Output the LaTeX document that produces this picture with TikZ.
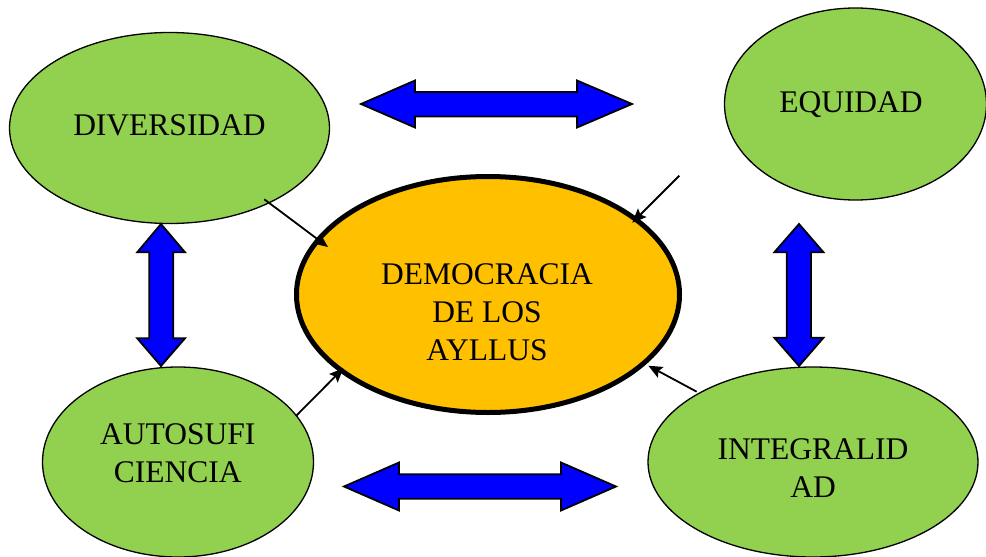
\documentclass[tikz,border=0pt]{standalone}
\usepackage{fontspec}
\setmainfont{Liberation Serif}
\usetikzlibrary{shapes.geometric,arrows.meta}
\definecolor{lgreen}{HTML}{92D050}
\definecolor{gold}{HTML}{FFC000}
\definecolor{dblue}{HTML}{0000FF}
\begin{document}
\begin{tikzpicture}[x=1pt,y=-1pt,
  greenell/.style={ellipse,draw=black,line width=1.3pt,fill=lgreen,inner sep=0pt},
  centerell/.style={ellipse,draw=black,line width=5pt,fill=gold,inner sep=0pt},
  lbl/.style={anchor=base,align=center,inner sep=0pt,font=\fontsize{31.5}{37.8}\selectfont},
  dbl/.style={draw=black,line width=1.8pt,fill=dblue,line join=miter},
  conn/.style={draw=black,line width=1.8pt,-{Stealth[length=14pt,width=12pt,inset=2.5pt]}}]
\useasboundingbox (0,0) rectangle (986,557);
% ellipses
\node[greenell,minimum width=320pt,minimum height=191pt] (div) at (169.5,128) {};
\node[greenell,minimum width=262pt,minimum height=192pt] (equ) at (855.5,104) {};
\node[greenell,minimum width=271pt,minimum height=190pt] (aut) at (178,462) {};
\node[greenell,minimum width=330pt,minimum height=190pt] (int) at (813,462) {};
\node[centerell,minimum width=383pt,minimum height=236pt] (dem) at (488,294.5) {};
% texts (base = baseline of last line)
\node[lbl] (tdiv) at (169.5,135.5) {DIVERSIDAD};
\node[lbl] (tequ) at (851,112) {EQUIDAD};
\node[lbl] (tdem) at (487,360) {DEMOCRACIA\\DE LOS\\AYLLUS};
\node[lbl] (taut) at (177.7,482.3) {AUTOSUFI\\CIENCIA};
\node[lbl] (tint) at (813,497.5) {INTEGRALID\\AD};
% double arrows
\draw[dbl] (361,104) -- (415,80.5) -- (415,92) -- (577,92) -- (577,80.5) -- (632,104) -- (577,127.5) -- (577,116.5) -- (415,116.5) -- (415,127.5) -- cycle;
\draw[dbl] (344,486.5) -- (399,462.5) -- (399,474.3) -- (561,474.3) -- (561,462.5) -- (616,486.5) -- (561,510.5) -- (561,498.8) -- (399,498.8) -- (399,510.5) -- cycle;
\draw[dbl] (161,224) -- (185,252.3) -- (173.2,252.3) -- (173.2,338.3) -- (185,338.3) -- (161,366) -- (137.2,338.3) -- (149.2,338.3) -- (149.2,252.3) -- (137.2,252.3) -- cycle;
\draw[dbl] (799,224) -- (823.5,252.3) -- (811,252.3) -- (811,337.7) -- (823.5,337.7) -- (799,366) -- (774.3,337.7) -- (786.8,337.7) -- (786.8,252.3) -- (774.3,252.3) -- cycle;
% connectors
\coordinate (s1) at (264.3,199.3);
\coordinate (e1) at (328,247);
\coordinate (s2) at (679.3,175.7);
\coordinate (e2) at (632.3,222.7);
\coordinate (s3) at (296,416);
\coordinate (e3) at (343.3,368.3);
\coordinate (s4) at (696.7,391.7);
\coordinate (e4) at (648.3,365.7);
\draw[conn] (s1) -- (e1);
\draw[conn] (s2) -- (e2);
\draw[conn] (s3) -- (e3);
\draw[conn] (s4) -- (e4);
\end{tikzpicture}
\end{document}
